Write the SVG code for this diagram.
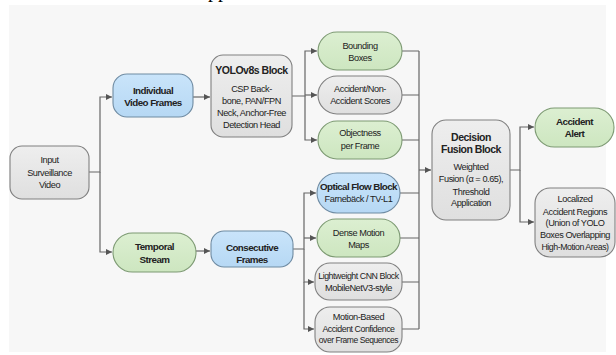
<svg xmlns="http://www.w3.org/2000/svg" width="616" height="355" viewBox="0 0 616 355">
<defs>
<marker id="ah" viewBox="0 0 6 6" refX="6" refY="3" markerWidth="6" markerHeight="6" markerUnits="userSpaceOnUse" orient="auto">
<path d="M0,0 L6,3 L0,6 z" fill="#555"/>
</marker>
<linearGradient id="gg" x1="0" y1="0" x2="0" y2="1"><stop offset="0" stop-color="#eeeeee"/><stop offset="1" stop-color="#dfdfdf"/></linearGradient>
<linearGradient id="gb" x1="0" y1="0" x2="0" y2="1"><stop offset="0" stop-color="#c9e4fa"/><stop offset="1" stop-color="#b6d8f4"/></linearGradient>
<linearGradient id="gn" x1="0" y1="0" x2="0" y2="1"><stop offset="0" stop-color="#dcefd1"/><stop offset="1" stop-color="#cde6c0"/></linearGradient>
</defs>
<style>
.gray{fill:url(#gg);stroke:#808080;stroke-width:1.1}
.blue{fill:url(#gb);stroke:#6f8ba2;stroke-width:1.1}
.green{fill:url(#gn);stroke:#7d9a73;stroke-width:1.1}
text{font-family:"Liberation Sans",Arial,sans-serif;fill:#222;text-anchor:middle;font-size:9.2px;letter-spacing:-0.45px}
.b{font-weight:bold;font-size:9.8px;letter-spacing:-0.55px}
.bt{font-weight:bold;font-size:10.5px;letter-spacing:-0.5px}
.c{fill:none;stroke:#666;stroke-width:1.2}
</style>
<rect x="0" y="0" width="616" height="355" fill="#ffffff"/>
<rect x="9" y="5" width="597" height="347" fill="#f7f7f7"/>
<text x="218" y="-3" style="font-family:'Liberation Serif',serif;font-size:20px;fill:#000;letter-spacing:0">pp</text>

<g id="connectors">
<path class="c" d="M89,172 H100 V97 H112" marker-end="url(#ah)"/>
<path class="c" d="M100,172 V252 H112" marker-end="url(#ah)"/>
<path class="c" d="M193,97 H210" marker-end="url(#ah)"/>
<path class="c" d="M196,251 H210" marker-end="url(#ah)"/>
<path class="c" d="M292,96 H305 V51 H317" marker-end="url(#ah)"/>
<path class="c" d="M305,95 H317" marker-end="url(#ah)"/>
<path class="c" d="M305,96 V140 H317" marker-end="url(#ah)"/>
<path class="c" d="M293,249 H304 V193 H316" marker-end="url(#ah)"/>
<path class="c" d="M304,238 H316" marker-end="url(#ah)"/>
<path class="c" d="M304,249 V282 H314" marker-end="url(#ah)"/>
<path class="c" d="M304,282 V329 H314" marker-end="url(#ah)"/>
<path class="c" d="M402,51 H419 M402,95 H419 M402,140 H419 M400,193 H419 M400,238 H419 M402,282 H419 M402,329 H419 M419,51 V329"/>
<path class="c" d="M419,170 H431" marker-end="url(#ah)"/>
<path class="c" d="M510,170 H520 V127 H534" marker-end="url(#ah)"/>
<path class="c" d="M520,170 V222 H534" marker-end="url(#ah)"/>
</g>

<g id="input">
<rect class="gray" x="10" y="146" width="79" height="53" rx="12"/>
<text x="49.5" y="163">Input</text>
<text x="49.5" y="175.5">Surveillance</text>
<text x="49.5" y="188">Video</text>
</g>
<g id="individual">
<rect class="blue" x="113" y="74" width="80" height="43" rx="14"/>
<text class="b" x="153" y="93.5">Individual</text>
<text class="b" x="153" y="106">Video Frames</text>
</g>
<g id="temporal">
<rect class="green" x="113" y="233" width="83" height="39" rx="19.5"/>
<text class="b" x="154.5" y="250">Temporal</text>
<text class="b" x="154.5" y="262.5">Stream</text>
</g>
<g id="yolo">
<rect class="gray" x="211" y="55" width="81" height="82" rx="12"/>
<text class="bt" x="251.5" y="73.5">YOLOv8s Block</text>
<text x="251.5" y="92">CSP Back-</text>
<text x="251.5" y="104">bone, PAN/FPN</text>
<text x="251.5" y="116">Neck, Anchor-Free</text>
<text x="251.5" y="128">Detection Head</text>
</g>
<g id="bounding">
<rect class="green" x="318" y="32" width="84" height="38" rx="19"/>
<text x="360" y="49">Bounding</text>
<text x="360" y="61">Boxes</text>
</g>
<g id="scores">
<rect class="gray" x="318" y="76" width="84" height="38" rx="19"/>
<text x="360" y="92">Accident/Non-</text>
<text x="360" y="104">Accident Scores</text>
</g>
<g id="objectness">
<rect class="green" x="318" y="121" width="84" height="38" rx="19"/>
<text x="360" y="136">Objectness</text>
<text x="360" y="149">per Frame</text>
</g>
<g id="consecutive">
<rect class="blue" x="211" y="231" width="82" height="36" rx="13"/>
<text class="b" x="252" y="250.5">Consecutive</text>
<text class="b" x="252" y="262.5">Frames</text>
</g>
<g id="optical">
<rect class="blue" x="317" y="173" width="83" height="40" rx="20"/>
<text class="b" x="358.5" y="190" style="letter-spacing:-0.6px">Optical Flow Block</text>
<text x="358.5" y="202">Farnebäck / TV-L1</text>
</g>
<g id="dense">
<rect class="green" x="317" y="219" width="83" height="38" rx="19"/>
<text x="358.5" y="236">Dense Motion</text>
<text x="358.5" y="248">Maps</text>
</g>
<g id="cnn">
<rect class="gray" x="315" y="263" width="87" height="37" rx="15"/>
<text x="358.5" y="279" style="font-size:8.8px">Lightweight CNN Block</text>
<text x="358.5" y="290.5">MobileNetV3-style</text>
</g>
<g id="motion">
<rect class="gray" x="315" y="307" width="87" height="45" rx="15"/>
<text x="358.5" y="320">Motion-Based</text>
<text x="358.5" y="331.5" style="font-size:8.8px">Accident Confidence</text>
<text x="358.5" y="343" style="font-size:8.5px">over Frame Sequences</text>
</g>
<g id="fusion">
<rect class="gray" x="432" y="120" width="78" height="100" rx="14"/>
<text class="bt" x="471" y="140.5">Decision</text>
<text class="bt" x="471" y="152.5">Fusion Block</text>
<text x="471" y="170">Weighted</text>
<text x="471" y="182">Fusion (α = 0.65),</text>
<text x="471" y="194.5">Threshold</text>
<text x="471" y="206">Application</text>
</g>
<g id="alert">
<rect class="green" x="535" y="108" width="79" height="39" rx="19.5"/>
<text class="b" x="574.5" y="125">Accident</text>
<text class="b" x="574.5" y="137">Alert</text>
</g>
<g id="localized">
<rect class="gray" x="535" y="188" width="80" height="69" rx="15"/>
<text x="575" y="202">Localized</text>
<text x="575" y="214.5">Accident Regions</text>
<text x="575" y="226">(Union of YOLO</text>
<text x="575" y="238">Boxes Overlapping</text>
<text x="575" y="250" style="font-size:8.8px">High-Motion Areas)</text>
</g>
</svg>
